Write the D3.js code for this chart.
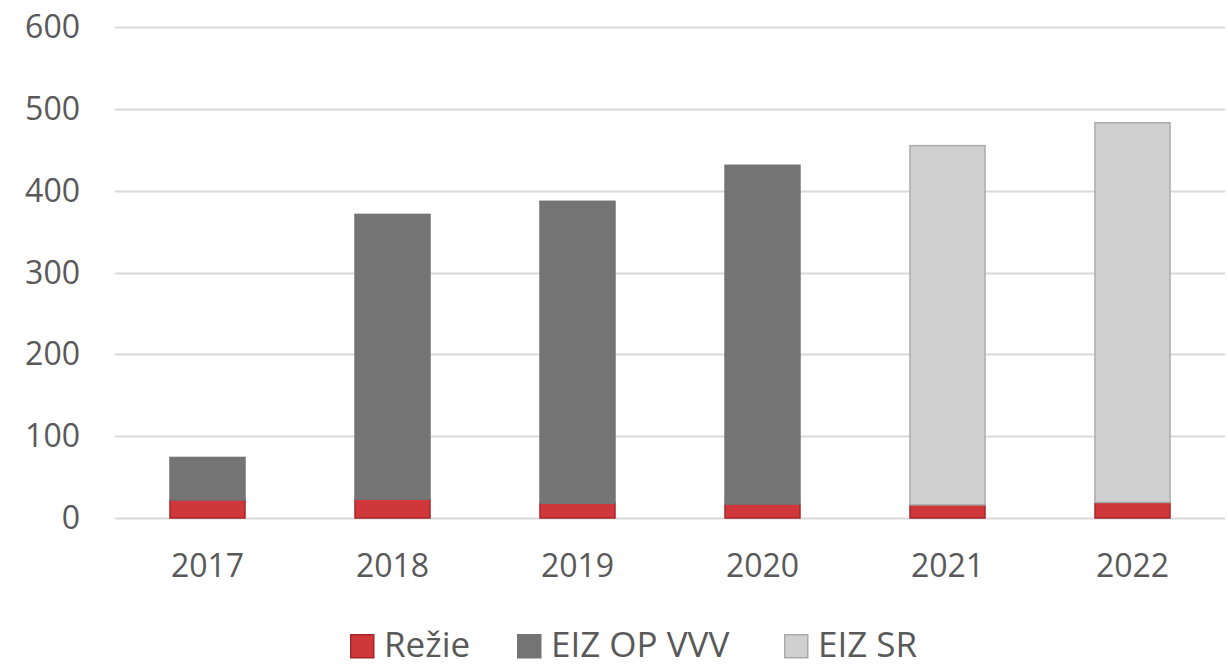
<!DOCTYPE html>
<html>
<head>
<meta charset="utf-8">
<script src="https://cdn.jsdelivr.net/npm/d3@7"></script>
<style>
  body { margin: 0; background: #fff; }
  text { font-family: "Open Sans", sans-serif; fill: #595959; }
</style>
</head>
<body>
<svg></svg>
<script>
// Data
const years = ["2017", "2018", "2019", "2020", "2021", "2022"];
const rezie = [22, 23, 18, 17, 16, 19];
const eizOpVvv = [52, 348, 369, 414, 0, 0];
const eizSr = [0, 0, 0, 0, 439, 464];
const yTicks = [0, 100, 200, 300, 400, 500, 600];
const seriesNames = ["Režie", "EIZ OP VVV", "EIZ SR"];

const width = 1228, height = 667, margin = { top: 27, right: 3, bottom: 149, left: 115 };

const svg = d3.select("svg")
    .attr("width", width)
    .attr("height", height);

const colors = ["#d0373a", "#747474", "#d0d0d0"];
const strokes = ["#a8262a", "#747474", "#ababab"];

// Stack the series
const rows = years.map((y, i) => ({ year: y, s0: rezie[i], s1: eizOpVvv[i], s2: eizSr[i] }));
const stacked = d3.stack().keys(["s0", "s1", "s2"])(rows);

// Scales
const x = d3.scaleBand().domain(years)
    .range([margin.left, width - margin.right])
    .paddingInner(110 / 185).paddingOuter(55 / 185);
const y = d3.scaleLinear().domain([0, 600]).range([height - margin.bottom, margin.top]);

// Gridlines
svg.append("g")
    .selectAll("line")
    .data(yTicks)
    .join("line")
    .attr("x1", margin.left)
    .attr("x2", width - margin.right)
    .attr("y1", d => Math.round(y(d)) + 0.5)
    .attr("y2", d => Math.round(y(d)) + 0.5)
    .attr("stroke", "#d9d9d9")
    .attr("stroke-width", 2);

// Y axis labels
svg.append("g")
    .selectAll("text")
    .data(yTicks)
    .join("text")
    .attr("x", 80)
    .attr("y", d => y(d) + 11)
    .attr("text-anchor", "end")
    .style("font-size", "32px")
    .text(d => d);

// Bars
svg.append("g")
    .selectAll("g")
    .data(stacked)
    .join("g")
    .attr("fill", (d, i) => colors[i])
    .attr("stroke", (d, i) => strokes[i])
    .attr("stroke-width", 1.5)
    .selectAll("rect")
    .data(d => d.filter(p => p[1] - p[0] > 0))
    .join("rect")
    .attr("x", d => x(d.data.year))
    .attr("width", x.bandwidth())
    .attr("y", d => y(d[1]))
    .attr("height", d => y(d[0]) - y(d[1]));

// X axis labels
svg.append("g")
    .selectAll("text")
    .data(years)
    .join("text")
    .attr("x", d => x(d) + x.bandwidth() / 2)
    .attr("y", 577)
    .attr("text-anchor", "middle")
    .style("font-size", "32px")
    .text(d => d);

// Legend
const legendX = [350, 517, 784];
const legend = svg.append("g")
    .selectAll("g")
    .data(seriesNames)
    .join("g")
    .attr("transform", (d, i) => `translate(${legendX[i]},634)`);

legend.append("rect")
    .attr("x", 0.75).attr("y", 0.75)
    .attr("width", 23).attr("height", 23)
    .attr("fill", (d, i) => colors[i])
    .attr("stroke", (d, i) => strokes[i])
    .attr("stroke-width", 1.5);

legend.append("text")
    .attr("x", 34)
    .attr("y", 23)
    .style("font-size", "35px")
    .text(d => d);
</script>
</body>
</html>
